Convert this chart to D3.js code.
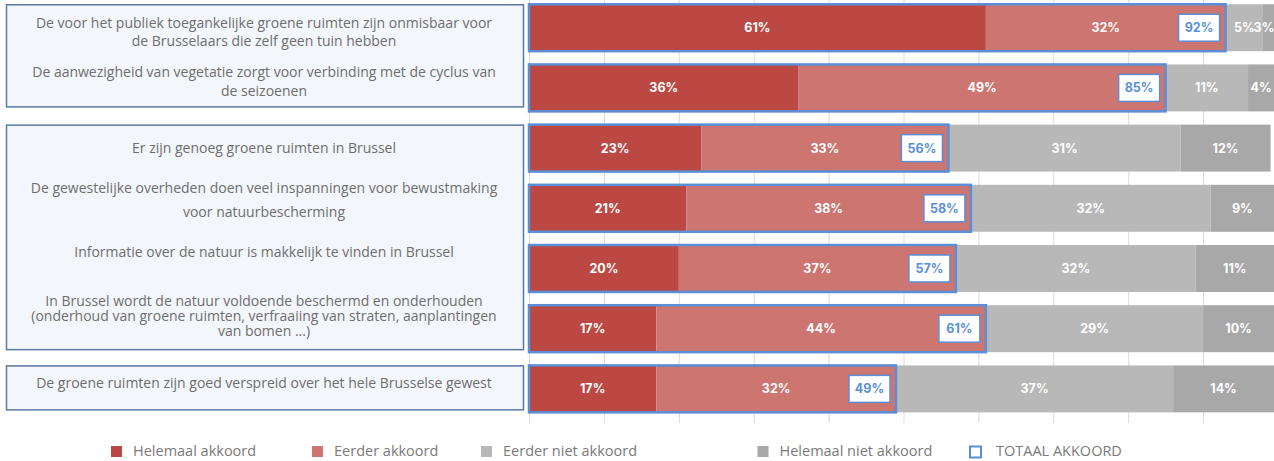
<!DOCTYPE html>
<html>
<head>
<meta charset="utf-8">
<script src="https://cdn.jsdelivr.net/npm/d3@7"></script>
<style>
  body { margin: 0; background: #fff; }
  svg { display: block; }
  .stmt { font-family: "Open Sans", sans-serif; font-size: 14px; fill: #6e6e6e; }
  .val { font-family: Inter, sans-serif; font-weight: 700; font-size: 12.5px; fill: #fff; }
  .tot { font-family: Inter, sans-serif; font-weight: 700; font-size: 12.5px; fill: #5a8fd8; }
  .leg { font-family: "Open Sans", sans-serif; font-size: 14.5px; fill: #7a7a7a; }
</style>
</head>
<body>
<svg id="chart"></svg>
<script>
// statements, one array of text lines per row
const statements = [
  ["De voor het publiek toegankelijke groene ruimten zijn onmisbaar voor", "de Brusselaars die zelf geen tuin hebben"],
  ["De aanwezigheid van vegetatie zorgt voor verbinding met de cyclus van", "de seizoenen"],
  ["Er zijn genoeg groene ruimten in Brussel"],
  ["De gewestelijke overheden doen veel inspanningen voor bewustmaking", "voor natuurbescherming"],
  ["Informatie over de natuur is makkelijk te vinden in Brussel"],
  ["In Brussel wordt de natuur voldoende beschermd en onderhouden", "(onderhoud van groene ruimten, verfraaiing van straten, aanplantingen", "van bomen ...)"],
  ["De groene ruimten zijn goed verspreid over het hele Brusselse gewest"]
];
const categories = ["Helemaal akkoord", "Eerder akkoord", "Eerder niet akkoord", "Helemaal niet akkoord"];
const helemaalAkkoord = [61, 36, 23, 21, 20, 17, 17];
const eerderAkkoord = [32, 49, 33, 38, 37, 44, 32];
const eerderNietAkkoord = [5, 11, 31, 32, 32, 29, 37];
const helemaalNietAkkoord = [3, 4, 12, 9, 11, 10, 14];
const totaalAkkoord = [92, 85, 56, 58, 57, 61, 49];
const totaalLabel = "TOTAAL AKKOORD";
const groups = [[0, 1], [2, 3, 4, 5], [6]];

const W = 1274, H = 461;
const colors = ["#bb4842", "#cd7570", "#b8b8b8", "#a8a8a8"];
const blue = "#5a8fd8";

// label placement per row: offset of first line from bar centre, line spacing
const labelLayout = [[-5, 18], [-16, 19], [0, 0], [-20, 24], [-16, 0], [-28, 15], [-6, 0]];

const svg = d3.select("#chart").attr("width", W).attr("height", H);

const rows = helemaalAkkoord.map((v, i) => ({
  i: i,
  [categories[0]]: v,
  [categories[1]]: eerderAkkoord[i],
  [categories[2]]: eerderNietAkkoord[i],
  [categories[3]]: helemaalNietAkkoord[i]
}));

const x = d3.scaleLinear().domain([0, 100]).range([529, 1278]);
const y = d3.scaleBand().domain(d3.range(rows.length)).range([-9, 425.6]).padding(0.22);
const bw = y.bandwidth();

// gridlines
svg.append("g")
    .attr("transform", "translate(0,423)")
    .call(d3.axisTop(x).tickValues(d3.range(0, 101, 10)).tickSize(423).tickFormat(""))
    .call(g => g.select(".domain").remove())
    .call(g => g.selectAll(".tick line").attr("stroke", "#dadada"));

// left statement boxes
svg.append("g").selectAll("rect")
  .data(groups)
  .join("rect")
    .attr("x", 6.5)
    .attr("y", d => y(d[0]) + 0.5)
    .attr("width", 517)
    .attr("height", d => y(d[d.length - 1]) + bw - 3 - y(d[0]) - (d.length === 2 ? 2 : 0))
    .attr("fill", "#f3f6fa")
    .attr("stroke", "#5b79a3")
    .attr("stroke-width", 1.5);

const stmt = svg.append("g").selectAll("text")
  .data(statements)
  .join("text")
    .attr("class", "stmt")
    .attr("text-anchor", "middle");
stmt.each(function(lines, i) {
  const cy = y(i) + bw / 2 + labelLayout[i][0];
  d3.select(this).selectAll("tspan")
    .data(lines)
    .join("tspan")
      .attr("x", 264)
      .attr("y", (l, j) => cy + j * labelLayout[i][1])
      .attr("dy", "0.35em")
      .text(l => l);
});

// stacked segments
const series = d3.stack().keys(categories)(rows);

const layer = svg.append("g").selectAll("g")
  .data(series)
  .join("g")
    .attr("fill", (d, k) => colors[k]);

layer.selectAll("rect")
  .data(d => d)
  .join("rect")
    .attr("x", d => x(d[0]))
    .attr("y", d => y(d.data.i))
    .attr("width", d => x(d[1]) - x(d[0]))
    .attr("height", bw);

layer.selectAll("text")
  .data(d => d)
  .join("text")
    .attr("class", "val")
    .attr("text-anchor", "middle")
    .attr("x", d => Math.min((x(d[0]) + Math.min(x(d[1]), W)) / 2, W - 10))
    .attr("y", d => y(d.data.i) + bw / 2)
    .attr("dy", "0.36em")
    .text(d => (d[1] - d[0]) + "%");

// total agree outline and label
const totals = svg.append("g").selectAll("g")
  .data(totaalAkkoord)
  .join("g");

const agreeEnd = i => x(helemaalAkkoord[i] + eerderAkkoord[i]);

totals.append("rect")
    .attr("x", x(0))
    .attr("y", (d, i) => y(i))
    .attr("width", (d, i) => agreeEnd(i) - x(0))
    .attr("height", bw)
    .attr("fill", "none")
    .attr("stroke", blue)
    .attr("stroke-width", 2.5);

totals.append("rect")
    .attr("x", (d, i) => agreeEnd(i) - 47)
    .attr("y", (d, i) => y(i) + bw / 2 - 13.5)
    .attr("width", 41)
    .attr("height", 27)
    .attr("fill", "#fff")
    .attr("stroke", blue)
    .attr("stroke-width", 1.5);

totals.append("text")
    .attr("class", "tot")
    .attr("text-anchor", "middle")
    .attr("x", (d, i) => agreeEnd(i) - 26.5)
    .attr("y", (d, i) => y(i) + bw / 2)
    .attr("dy", "0.36em")
    .text(d => d + "%");

// legend
const legX = [111, 312, 481, 757.5];
const leg = svg.append("g").selectAll("g")
  .data(categories)
  .join("g")
    .attr("transform", (d, k) => `translate(${legX[k]},446)`);
leg.append("rect").attr("width", 11).attr("height", 11).attr("fill", (d, k) => colors[k]);
leg.append("text").attr("class", "leg").attr("x", 22).attr("y", 5).attr("dy", "0.35em").text(d => d);

const legT = svg.append("g").attr("transform", "translate(970,446.5)");
legT.append("rect").attr("width", 11).attr("height", 11).attr("fill", "none")
    .attr("stroke", blue).attr("stroke-width", 2);
legT.append("text").attr("class", "leg").attr("x", 26).attr("y", 4.5).attr("dy", "0.35em").text(totaalLabel);
</script>
</body>
</html>
